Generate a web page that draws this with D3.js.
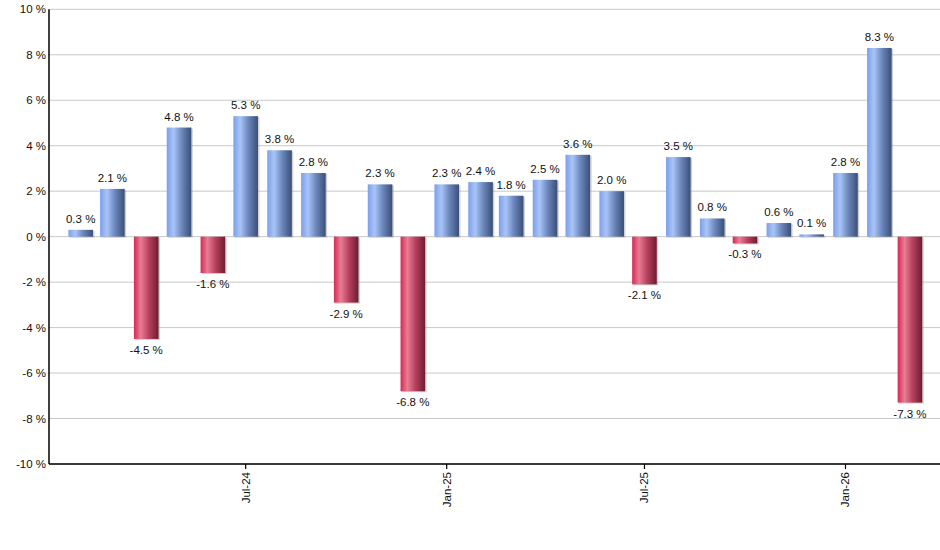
<!DOCTYPE html>
<html><head><meta charset="utf-8">
<script src="https://cdn.jsdelivr.net/npm/d3@7"></script>
<style>body{margin:0;background:#fff;}svg{display:block;font-family:"Liberation Sans",Arial,sans-serif;}</style>
</head><body>
<svg id="c" width="940" height="550"></svg>
<script>
const months = ["2024-02","2024-03","2024-04","2024-05","2024-06","2024-07","2024-08","2024-09","2024-10","2024-11","2024-12","2025-01","2025-02","2025-03","2025-04","2025-05","2025-06","2025-07","2025-08","2025-09","2025-10","2025-11","2025-12","2026-01","2026-02","2026-03"];
const values = [0.3,2.1,-4.5,4.8,-1.6,5.3,3.8,2.8,-2.9,2.3,-6.8,2.3,2.4,1.8,2.5,3.6,2.0,-2.1,3.5,0.8,-0.3,0.6,0.1,2.8,8.3,-7.3];
const yTicks = [-10,-8,-6,-4,-2,0,2,4,6,8,10];
const xTickMonths = ["2024-07","2025-01","2025-07","2026-01"];

const parse = d3.timeParse("%Y-%m");
const data = months.map((m,i)=>({date:parse(m), v:values[i]}));

const svg = d3.select("#c");
const L = 49, R = 940, T = 9.3, B = 464;
const x = d3.scaleTime().domain([new Date(2024,0,3), new Date(2026,2,28,12)]).range([L,R]);
const y = d3.scaleLinear().domain([-10,10]).range([B,T]);
const bw = 24.6;

const defs = svg.append("defs");
function grad(id, stops){
  const g = defs.append("linearGradient").attr("id",id).attr("x1","0%").attr("x2","100%").attr("y1","0%").attr("y2","0%");
  stops.forEach(s=>g.append("stop").attr("offset",s[0]).attr("stop-color",s[1]));
}
grad("gb",[["0%","#7c9fe8"],["28%","#a9c4f8"],["60%","#6d88bd"],["100%","#3a4f78"]]);
grad("gr",[["0%","#d42a55"],["28%","#e87d94"],["60%","#b8425e"],["100%","#6e1c30"]]);

const pct = d => d3.format(".1f")(d).replace("\u2212","-") + " %";

// gridlines
svg.append("g").selectAll("line").data(yTicks).join("line")
  .attr("x1",L).attr("x2",R).attr("y1",d=>y(d)).attr("y2",d=>y(d))
  .attr("stroke","#c8c8c8").attr("stroke-width",1);

// y labels
svg.append("g").selectAll("text").data(yTicks).join("text")
  .attr("x",L-3).attr("y",d=>y(d)+4).attr("text-anchor","end")
  .attr("font-size",11.5).attr("fill","#111").text(d=>d+" %");

// shadows
svg.append("g").selectAll("rect").data(data).join("rect")
  .attr("x",d=>x(d.date)-bw/2+1.5).attr("width",bw)
  .attr("y",d=>Math.min(y(d.v),y(0))+1).attr("height",d=>Math.abs(y(d.v)-y(0)))
  .attr("fill","#9a9a9a").attr("opacity",0.45);
// bars
svg.append("g").selectAll("rect").data(data).join("rect")
  .attr("x",d=>x(d.date)-bw/2).attr("width",bw)
  .attr("y",d=>Math.min(y(d.v),y(0))).attr("height",d=>Math.abs(y(d.v)-y(0)))
  .attr("fill",d=>d.v>=0?"url(#gb)":"url(#gr)");

// value labels
svg.append("g").selectAll("text").data(data).join("text")
  .attr("x",d=>x(d.date)).attr("y",d=>d.v>=0? y(d.v)-7 : y(d.v)+15)
  .attr("text-anchor","middle").attr("font-size",11.5).attr("fill","#111")
  .text(d=>pct(d.v));

// axes lines
svg.append("line").attr("x1",L).attr("x2",L).attr("y1",T).attr("y2",B).attr("stroke","#000").attr("stroke-width",1.5);
svg.append("line").attr("x1",L).attr("x2",R).attr("y1",B).attr("y2",B).attr("stroke","#000").attr("stroke-width",1.5);

// x ticks
const xt = xTickMonths.map(parse);
const fmt = d3.timeFormat("%b-%y");
const tg = svg.append("g").selectAll("g").data(xt).join("g").attr("transform",d=>`translate(${x(d)},${B})`);
tg.append("line").attr("y1",0).attr("y2",5).attr("stroke","#000").attr("stroke-width",1.2);
tg.append("text").attr("transform","rotate(-90)").attr("x",-8).attr("y",4)
  .attr("text-anchor","end").attr("font-size",11.5).attr("fill","#111").text(d=>fmt(d));
</script>
</body></html>
